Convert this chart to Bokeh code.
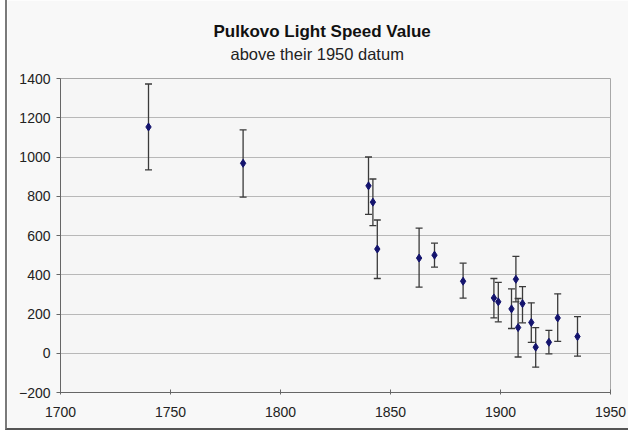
from bokeh.plotting import figure
from bokeh.models import ColumnDataSource, Whisker, TeeHead, Title, FixedTicker, Range1d
from bokeh.embed import file_html
from bokeh.resources import INLINE

# Data
years = [1740, 1783, 1840, 1842, 1844, 1863, 1870, 1883, 1897, 1899, 1905,
         1907, 1908, 1910, 1914, 1916, 1922, 1926, 1935]
values = [1153, 968, 853, 770, 531, 485, 500, 367, 282, 262, 226,
          377, 131, 253, 157, 31, 56, 180, 85]
upper = [1372, 1138, 1000, 888, 679, 638, 561, 459, 381, 361, 328,
         494, 279, 340, 257, 131, 117, 303, 187]
lower = [934, 796, 708, 650, 381, 337, 439, 281, 180, 160, 126,
         262, -19, 155, 55, -71, -3, 61, -15]

x_ticks = [1700, 1750, 1800, 1850, 1900, 1950]
y_ticks = [-200, 0, 200, 400, 600, 800, 1000, 1200, 1400]

title_text = "Pulkovo Light Speed Value"
subtitle_text = "above their 1950 datum"

src = ColumnDataSource(dict(year=years, value=values, upper=upper, lower=lower))

p = figure(width=623, height=430, output_backend="svg", toolbar_location=None,
           x_range=Range1d(x_ticks[0], x_ticks[-1]),
           y_range=Range1d(y_ticks[0], y_ticks[-1]),
           min_border_left=53, min_border_right=20,
           min_border_top=78, min_border_bottom=38)
p.styles = {"margin-left": "5px",
            "border-left": "2px solid #7a7a7a",
            "border-bottom": "2px solid #555555"}

p.background_fill_color = "#f6f6f6"
p.border_fill_color = "#f8f8f8"
p.outline_line_color = "#a8a8a8"

# Titles (nearest the frame first): spacer, subtitle, title
spacer = Title(text=" ", text_font_size="10px", standoff=0)
p.add_layout(spacer, "above")
sub = Title(text=subtitle_text, align="left", offset=170,
            text_font="Liberation Sans", text_font_size="16.5px",
            text_font_style="normal", text_color="#222222", standoff=5)
p.add_layout(sub, "above")
ttl = Title(text=title_text, align="left", offset=153,
            text_font="Liberation Sans", text_font_size="17px",
            text_font_style="bold", text_color="#111111", standoff=0)
p.add_layout(ttl, "above")

# Axes
p.xaxis.ticker = FixedTicker(ticks=x_ticks)
p.yaxis.ticker = FixedTicker(ticks=y_ticks)
p.xaxis.minor_tick_line_color = None
p.yaxis.minor_tick_line_color = None
for ax in (p.xaxis, p.yaxis):
    ax.axis_line_color = "#666666"
    ax.major_tick_line_color = "#666666"
    ax.major_label_text_font = "Liberation Sans"
    ax.major_label_text_font_size = "14px"
    ax.major_label_text_color = "#222222"
p.yaxis.major_tick_out = 4
p.yaxis.major_tick_in = 0
p.yaxis.major_label_standoff = 6
p.xaxis.major_tick_out = 2
p.xaxis.major_tick_in = 3
p.xaxis.major_label_standoff = 12

p.xgrid.grid_line_color = None
p.ygrid.grid_line_color = "#b8b8b8"
p.ygrid.grid_line_width = 1

# Error bars
wh = Whisker(source=src, base="year", upper="upper", lower="lower",
             line_color="#3a3a3a", line_width=1.3,
             upper_head=TeeHead(size=7, line_color="#3a3a3a", line_width=1.3),
             lower_head=TeeHead(size=7, line_color="#3a3a3a", line_width=1.3))
p.add_layout(wh)

# Points
p.scatter("year", "value", source=src, marker="diamond", size=8,
          fill_color="#14146e", line_color="#14146e")

open("out.html", "w").write(file_html(p, INLINE))
